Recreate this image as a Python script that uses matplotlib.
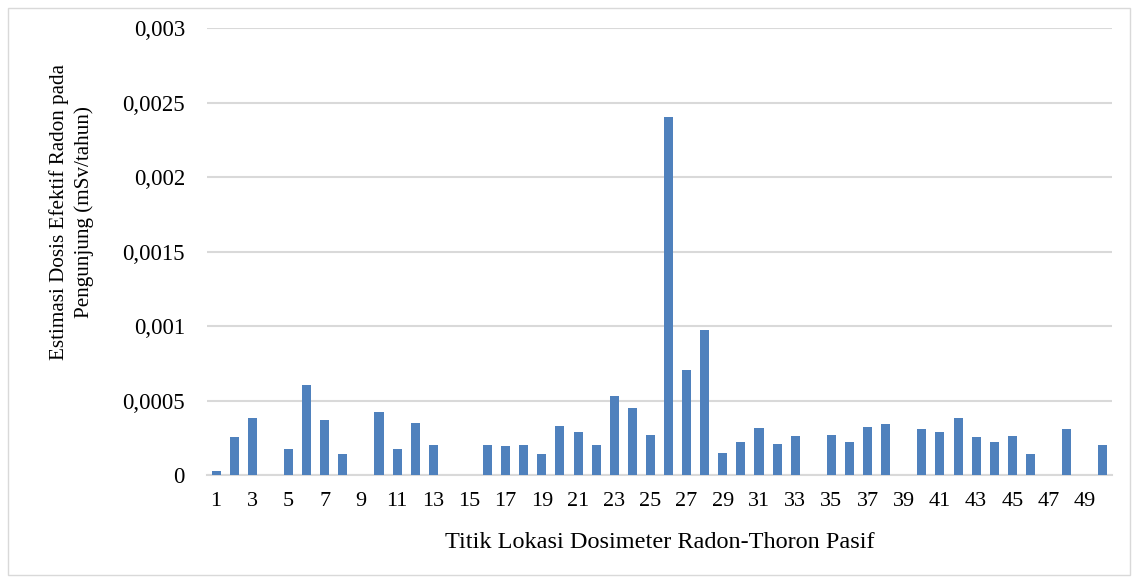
import numpy as np
import matplotlib.pyplot as plt
from matplotlib.patches import Rectangle

# titik lokasi 1..50 and estimated dose (mSv/tahun)
titik = list(range(1, 51))
dosis = [0.000025, 0.000255, 0.000385, 0, 0.000178, 0.000604, 0.000367, 0.000144, 0, 0.000424,
         0.000178, 0.000349, 0.000204, 0, 0, 0.000204, 0.000198, 0.000204, 0.000144, 0.000331,
         0.000289, 0.000204, 0.000529, 0.000451, 0.000271, 0.0024, 0.000707, 0.000971, 0.000151, 0.000222,
         0.000316, 0.000211, 0.000264, 0, 0.000271, 0.000222, 0.000324, 0.00034, 0, 0.000307,
         0.000289, 0.000385, 0.000255, 0.000222, 0.000264, 0.000144, 0, 0.000307, 0, 0.000204]
y_ticks = [0, 0.0005, 0.001, 0.0015, 0.002, 0.0025, 0.003]
y_labels = ['0', '0,0005', '0,001', '0,0015', '0,002', '0,0025', '0,003']

plt.rcParams['font.family'] = ['Liberation Serif', 'DejaVu Serif']

fig = plt.figure(figsize=(11.38, 5.83), dpi=100)
ax = fig.add_axes([0.182, 0.185, 0.795, 0.767])

ax.bar(titik, dosis, width=0.5, color='#4F81BD', zorder=3)

ax.set_ylim(0, 0.003)
ax.set_xlim(0.5, 50.5)
ax.set_yticks(y_ticks)
ax.set_yticklabels(y_labels, fontsize=16.5)
ax.set_xticks(titik[::2])
ax.set_xticklabels([str(t) for t in titik[::2]], fontsize=16)
ax.tick_params(axis='y', length=0, pad=16)
ax.tick_params(axis='x', length=0, pad=12)
ax.grid(axis='y', color='#D9D9D9', linewidth=1.5, zorder=0)
for s in ['top', 'right', 'left']:
    ax.spines[s].set_visible(False)
ax.spines['bottom'].set_color('#D9D9D9')
ax.spines['bottom'].set_linewidth(1.5)

ax.set_xlabel('Titik Lokasi Dosimeter Radon-Thoron Pasif', fontsize=17.5, labelpad=15)
ax.set_ylabel('Estimasi Dosis Efektif Radon pada\nPengunjung (mSv/tahun)', fontsize=15.2,
              linespacing=1.4, va='center')
ax.yaxis.set_label_coords(-0.150, 0.588)

# light border around the whole chart
fig.patches.append(Rectangle((0.007, 0.013), 0.986, 0.974, transform=fig.transFigure,
                             fill=False, edgecolor='#D9D9D9', linewidth=1))

plt.savefig('out.png', dpi=100)
